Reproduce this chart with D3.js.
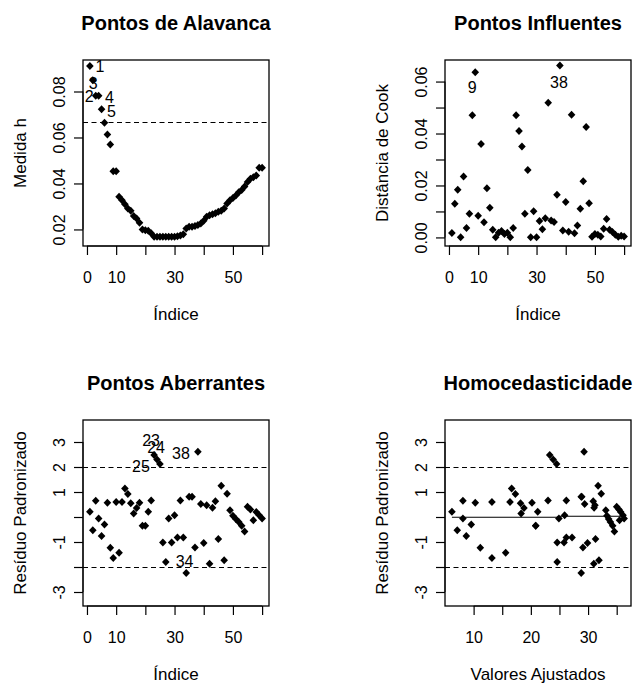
<!DOCTYPE html>
<html><head><meta charset="utf-8">
<script src="https://cdn.jsdelivr.net/npm/d3@7/dist/d3.min.js"></script>
<style>body{margin:0;background:#fff}svg{display:block}text{font-family:"Liberation Sans",Arial,sans-serif;fill:#000}</style>
</head><body><svg id="c" width="636" height="685"></svg>
<script>
// ---------- data ----------
const indexValues = d3.range(1, 61);
const leverage = [0.0911,0.0849,0.0781,0.0781,0.0723,0.0664,0.0613,0.0570,0.0453,0.0453,
  0.0342,0.0327,0.0310,0.0291,0.0281,0.0258,0.0248,0.0229,0.0200,0.0197,
  0.0194,0.0183,0.0168,0.0168,0.0168,0.0168,0.0168,0.0168,0.0168,0.0168,
  0.0170,0.0174,0.0179,0.0204,0.0212,0.0212,0.0215,0.0219,0.0226,0.0238,
  0.0255,0.0262,0.0266,0.0270,0.0277,0.0281,0.0291,0.0313,0.0327,0.0337,
  0.0348,0.0362,0.0372,0.0387,0.0406,0.0420,0.0427,0.0435,0.0468,0.0468];
const cooksDistance = [0.0017,0.0130,0.0184,0.0001,0.0235,0.0036,0.0091,0.0470,0.0636,0.0083,
  0.0360,0.0058,0.0189,0.0114,0.0030,0.0001,0.0018,0.0025,0.0013,0.0018,
  0.0001,0.0036,0.0470,0.0410,0.0350,0.0091,0.0260,0.0001,0.0101,0.0001,
  0.0063,0.0031,0.0074,0.0518,0.0065,0.0059,0.0164,0.0662,0.0027,0.0136,
  0.0022,0.0472,0.0016,0.0046,0.0110,0.0216,0.0425,0.0132,0.0003,0.0013,
  0.0010,0.0004,0.0033,0.0071,0.0030,0.0021,0.0010,0.0003,0.0006,0.0004];
const stdResiduals = [0.21,-0.53,0.65,-0.06,-0.76,-0.30,0.57,-1.23,-1.64,0.60,
  -1.43,0.60,1.14,0.92,0.55,0.14,0.36,0.57,-0.35,-0.35,
  0.21,0.66,2.48,2.30,2.12,-1.02,-1.80,-0.06,-1.02,0.07,
  -0.82,0.66,-0.82,-2.24,0.81,0.81,-1.22,2.61,0.52,-1.04,
  0.47,-1.87,0.37,0.63,-0.88,1.25,-1.73,0.93,0.27,0.05,
  -0.08,-0.20,-0.35,-0.58,0.41,0.30,-0.13,0.20,0.07,-0.06];
const fittedValues = [6.21,7.14,8.13,8.13,8.72,9.59,10.29,11.17,13.2,13.2,
  15.6,16.36,16.65,17.3,18.2,18.3,18.8,20.2,20.85,20.85,
  21.2,23.0,23.3,23.9,24.5,24.6,24.6,24.9,25.8,25.9,
  26.2,26.2,27.2,28.8,28.8,28.9,29.1,29.3,29.4,29.9,
  31.2,31.0,31.05,30.9,31.3,31.75,31.9,32.3,33.1,33.3,
  33.6,33.9,34.3,34.6,35.0,35.4,35.5,35.7,36.1,36.3];
const smoothX = [6.21, 24.5, 25.2, 36.3];
const smoothY = [-0.01, -0.01, 0.03, 0.03];
const leverageCutoff = [0.0667];
const residualCutoffs = [-2, 2];

const titles = ["Pontos de Alavanca", "Pontos Influentes", "Pontos Aberrantes", "Homocedasticidade"];
const xTitles = ["Índice", "Índice", "Índice", "Valores Ajustados"];
const yTitles = ["Medida h", "Distância de Cook", "Resíduo Padronizado", "Resíduo Padronizado"];

const indexTicks = [0, 10, 20, 30, 40, 50, 60];
const indexTickLabels = ["0", "10", "", "30", "", "50", ""];
const leverageTicks = [0.02, 0.04, 0.06, 0.08];
const leverageTickLabels = ["0.02", "0.04", "0.06", "0.08"];
const cookTicks = [0, 0.01, 0.02, 0.03, 0.04, 0.05, 0.06];
const cookTickLabels = ["0.00", "", "0.02", "", "0.04", "", "0.06"];
const residualTicks = [-3, -2, -1, 0, 1, 2, 3];
const residualTickLabels = ["-3", "", "-1", "", "1", "2", "3"];
const fittedTicks = [10, 15, 20, 25, 30, 35];
const fittedTickLabels = ["10", "", "20", "", "30", ""];

const leverageLabels = [{i:1,t:"1"},{i:3,t:"3"},{i:2,t:"2"},{i:4,t:"4"},{i:5,t:"5"}];
const cookLabels = [{i:9,t:"9"},{i:38,t:"38"}];
const residualLabels = [{i:23,t:"23"},{i:24,t:"24"},{i:25,t:"25"},{i:38,t:"38"},{i:34,t:"34"}];

// ---------- style / layout ----------
const labelOffsets = {
  lev: {"1":[10,1],"3":[-2.4,-12.4],"2":[-3.5,16],"4":[10.7,2],"5":[10,2.7]},
  cook: {"9":[-3,15],"38":[-1,16.7]},
  res: {"23":[-3,-15],"24":[-1,-12],"25":[-19,2.7],"38":[-17,1.6],"34":[-1.6,-12]}
};
const BOX = 186;
const panels = [
  {x0:83, y0:60}, {x0:445, y0:60}, {x0:83, y0:420}, {x0:445, y0:420}
];
const svg = d3.select("#c");
svg.append("rect").attr("width",636).attr("height",685).attr("fill","#fff");

const diamond = (rx, ry) => `M0,${-ry}L${rx},0L0,${ry}L${-rx},0Z`;
const TICK_FS = 16, TITLE_FS = 20, AXT_FS = 17;

function panel(k, xDomain, yDomain, xt, xtl, yt, ytl) {
  const p = panels[k];
  const g = svg.append("g");
  const x = d3.scaleLinear().domain(xDomain).range([p.x0, p.x0 + BOX]);
  const y = d3.scaleLinear().domain(yDomain).range([p.y0 + BOX, p.y0]);
  // axes
  const xa = d3.axisBottom(x).tickValues(xt).tickSize(9).tickFormat((d,i)=>xtl[i]).tickSizeOuter(0);
  const gx = g.append("g").attr("transform",`translate(0,${p.y0+BOX})`).call(xa);
  gx.select(".domain").attr("d", `M${x(xt[0])},0H${x(xt[xt.length-1])}`).attr("stroke","#000");
  gx.selectAll(".tick line").attr("stroke","#000").attr("stroke-width",1.2);
  gx.selectAll(".tick text").attr("y", 37).attr("dy", null).attr("font-size", TICK_FS)
    .style("font-family","'Liberation Sans',Arial,sans-serif");
  const ya = d3.axisLeft(y).tickValues(yt).tickSize(9).tickFormat((d,i)=>ytl[i]).tickSizeOuter(0);
  const gy = g.append("g").attr("transform",`translate(${p.x0},0)`).call(ya);
  gy.select(".domain").attr("d", `M0,${y(yt[0])}V${y(yt[yt.length-1])}`).attr("stroke","#000");
  gy.selectAll(".tick line").attr("stroke","#000").attr("stroke-width",1.2);
  gy.selectAll(".tick text").attr("x", null).attr("dy", null)
    .attr("transform","translate(-18,0) rotate(-90)").attr("text-anchor","middle")
    .attr("font-size", TICK_FS).style("font-family","'Liberation Sans',Arial,sans-serif");
  // box
  g.append("rect").attr("x",p.x0).attr("y",p.y0).attr("width",BOX).attr("height",BOX)
    .attr("fill","none").attr("stroke","#000").attr("stroke-width",1.3);
  // titles
  g.append("text").attr("x",p.x0+BOX/2).attr("y",p.y0-30).attr("text-anchor","middle")
    .attr("font-size",TITLE_FS).attr("font-weight","bold").text(titles[k]);
  g.append("text").attr("x",p.x0+BOX/2).attr("y",p.y0+BOX+74).attr("text-anchor","middle")
    .attr("font-size",AXT_FS).text(xTitles[k]);
  g.append("text").attr("transform",`translate(${p.x0-57},${p.y0+BOX/2}) rotate(-90)`)
    .attr("text-anchor","middle").attr("font-size",AXT_FS).text(yTitles[k]);
  return {g, x, y, p};
}

function hline(P, v, dashed) {
  const yy = Math.round(P.y(v)) + 0.5;
  P.g.append("line").attr("x1",P.p.x0).attr("x2",P.p.x0+BOX).attr("y1",yy).attr("y2",yy)
    .attr("stroke","#000").attr("stroke-width",1.2).attr("stroke-dasharray", dashed ? "5,3.5" : null);
}
function points(P, xs, ys) {
  P.g.selectAll("path.pt").data(xs.map((d,i)=>[d, ys[i]])).join("path").attr("class","pt")
    .attr("transform", d=>`translate(${P.x(d[0])},${P.y(d[1])})`)
    .attr("d", diamond(3.8, 4.0)).attr("fill","#000");
}
function labels(P, specs, xs, ys, offs) {
  P.g.selectAll("text.lab").data(specs).join("text").attr("class","lab")
    .attr("x", d=>P.x(xs[d.i-1]) + offs[d.t][0])
    .attr("y", d=>P.y(ys[d.i-1]) + offs[d.t][1])
    .attr("text-anchor","middle").attr("dominant-baseline","central")
    .attr("font-size",TICK_FS).text(d=>d.t);
}

const idxDomain = [-1.36, 62.36];
const P1 = panel(0, idxDomain, [0.0128, 0.0937], indexTicks, indexTickLabels, leverageTicks, leverageTickLabels);
hline(P1, leverageCutoff[0], true);
points(P1, indexValues, leverage);
labels(P1, leverageLabels, indexValues, leverage, labelOffsets.lev);

const P2 = panel(1, idxDomain, [-0.0033, 0.0683], indexTicks, indexTickLabels, cookTicks, cookTickLabels);
points(P2, indexValues, cooksDistance);
labels(P2, cookLabels, indexValues, cooksDistance, labelOffsets.cook);

const P3 = panel(2, idxDomain, [-3.56, 3.88], indexTicks, indexTickLabels, residualTicks, residualTickLabels);
residualCutoffs.forEach(v => hline(P3, v, true));
points(P3, indexValues, stdResiduals);
labels(P3, residualLabels, indexValues, stdResiduals, labelOffsets.res);

const P4 = panel(3, [5.0, 37.5], [-3.56, 3.88], fittedTicks, fittedTickLabels, residualTicks, residualTickLabels);
residualCutoffs.forEach(v => hline(P4, v, true));
P4.g.append("path").datum(smoothX.map((d,i)=>[d, smoothY[i]]))
  .attr("d", d3.line().x(d=>P4.x(d[0])).y(d=>P4.y(d[1])))
  .attr("fill","none").attr("stroke","#000").attr("stroke-width",1.1);
points(P4, fittedValues, stdResiduals);
</script></body></html>
